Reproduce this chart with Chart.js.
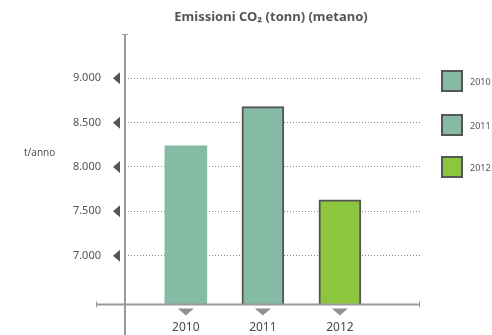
<!DOCTYPE html>
<html>
<head>
<meta charset="utf-8">
<script src="https://cdn.jsdelivr.net/npm/chart.js@4"></script>
<style>
  body { margin: 0; background: #fff; }
  #wrap { width: 492px; height: 335px; position: relative; }
</style>
</head>
<body>
<div id="wrap"><canvas id="co2Chart"></canvas></div>
<script>
const years = ['2010', '2011', '2012'];
const emissions = [8240, 8680, 7630];
const yTicks = [7000, 7500, 8000, 8500, 9000];
const barColors = ['#85bba5', '#85bba5', '#8cc63f'];
const barBorders = [0, 2, 2];

const FONT = '"Noto Sans", sans-serif';
const TEXT = '#555';

// axes, arrows, title and legend drawn by hand
const decorations = {
    id: 'decorations',
    afterDraw(chart) {
        const ctx = chart.ctx;
        const area = chart.chartArea;
        const xs = chart.scales.x;
        const ys = chart.scales.y;
        ctx.save();

        // axis lines
        ctx.strokeStyle = '#999';
        ctx.lineWidth = 2;
        ctx.beginPath();
        ctx.moveTo(area.left, area.top);
        ctx.lineTo(area.left, chart.height);
        ctx.moveTo(area.left - 29, area.bottom);
        ctx.lineTo(area.right, area.bottom);
        ctx.stroke();
        ctx.lineWidth = 1;
        ctx.beginPath();
        ctx.moveTo(area.left - 3, area.top + 0.5);
        ctx.lineTo(area.left + 3, area.top + 0.5);
        ctx.moveTo(area.left - 28.5, area.bottom - 3);
        ctx.lineTo(area.left - 28.5, area.bottom + 3);
        ctx.moveTo(area.right - 0.5, area.bottom - 3);
        ctx.lineTo(area.right - 0.5, area.bottom + 3);
        ctx.stroke();

        // left arrows at y ticks
        ctx.fillStyle = TEXT;
        yTicks.forEach(v => {
            const y = ys.getPixelForValue(v);
            ctx.beginPath();
            ctx.moveTo(area.left - 12, y);
            ctx.lineTo(area.left - 5, y - 6);
            ctx.lineTo(area.left - 5, y + 6);
            ctx.closePath();
            ctx.fill();
        });

        // down arrows under bars
        ctx.fillStyle = '#938f97';
        years.forEach((_, i) => {
            const x = xs.getPixelForValue(i + 1);
            ctx.beginPath();
            ctx.moveTo(x - 8, area.bottom + 4);
            ctx.lineTo(x + 8, area.bottom + 4);
            ctx.lineTo(x, area.bottom + 11);
            ctx.closePath();
            ctx.fill();
        });

        // title
        ctx.fillStyle = TEXT;
        ctx.textAlign = 'center';
        ctx.textBaseline = 'middle';
        ctx.font = 'bold 13px ' + FONT;
        ctx.fillText('Emissioni CO\u2082 (tonn) (metano)', 271, 17);

        // unit label
        ctx.font = '10px ' + FONT;
        ctx.textAlign = 'left';
        ctx.fillText('t/anno', 24, 153);

        // legend
        const legendY = [81, 125, 167];
        ctx.font = '9px ' + FONT;
        years.forEach((yr, i) => {
            const cy = legendY[i];
            ctx.fillStyle = barColors[i];
            ctx.fillRect(area.right + 22, cy - 10, 20, 20);
            ctx.strokeStyle = TEXT;
            ctx.lineWidth = 2;
            ctx.strokeRect(area.right + 22, cy - 10, 20, 20);
            ctx.fillStyle = TEXT;
            ctx.fillText(yr, area.right + 50, cy + 1);
        });
        ctx.restore();
    }
};

const ctx = document.getElementById('co2Chart').getContext('2d');
new Chart(ctx, {
    type: 'bar',
    data: {
        datasets: [{
            data: emissions.map((v, i) => ({ x: i + 1, y: v })),
            backgroundColor: barColors,
            borderColor: TEXT,
            borderWidth: barBorders,
            borderSkipped: false,
            barThickness: 42
        }]
    },
    options: {
        responsive: true,
        maintainAspectRatio: false,
        animation: false,
        layout: { padding: { top: 34, right: 72, bottom: 0, left: 0 } },
        plugins: {
            legend: { display: false },
            title: { display: false },
            tooltip: { enabled: false }
        },
        scales: {
            x: {
                type: 'linear',
                offset: false,
                min: 0.21,
                max: 4.04,
                afterBuildTicks: s => { s.ticks = years.map((_, i) => ({ value: i + 1 })); },
                afterFit: s => { s.height = 29; },
                grid: { display: false, drawTicks: false },
                border: { display: false },
                ticks: {
                    padding: 16,
                    color: '#4a4a4a',
                    font: { family: FONT, size: 12 },
                    callback: v => years[v - 1]
                }
            },
            y: {
                min: 6450,
                max: 9500,
                afterBuildTicks: s => { s.ticks = yTicks.map(v => ({ value: v })); },
                afterFit: s => { s.width = 125; },
                grid: { color: '#888', drawTicks: false, lineWidth: 1 },
                border: { display: false, dash: [1, 2] },
                ticks: {
                    padding: 24,
                    color: TEXT,
                    font: { family: FONT, size: 11 },
                    callback: v => v.toLocaleString('it-IT')
                }
            }
        }
    },
    plugins: [decorations]
});
</script>
</body>
</html>
